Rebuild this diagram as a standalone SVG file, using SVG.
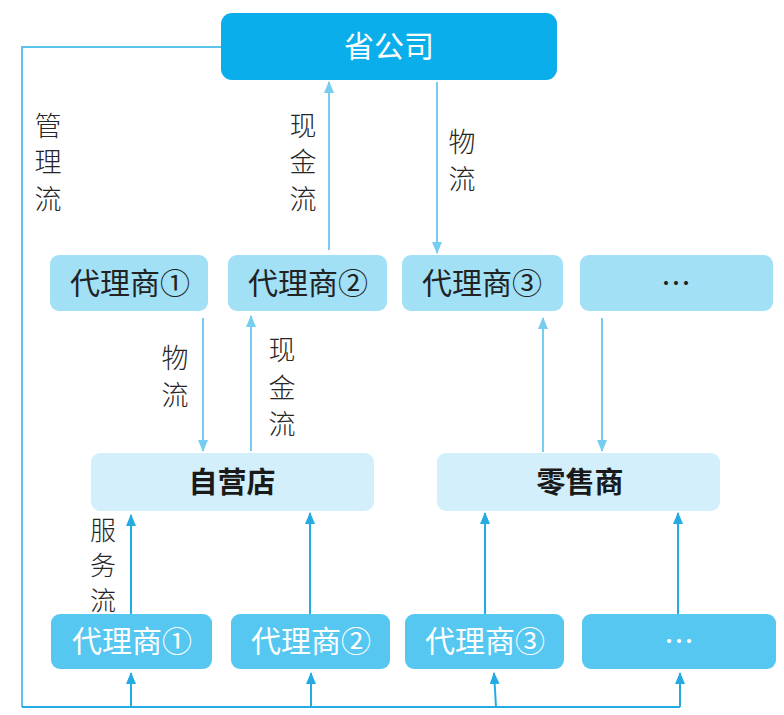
<svg xmlns="http://www.w3.org/2000/svg" width="784" height="715" viewBox="0 0 784 715">
<style>
.t{font-family:"Noto Sans CJK SC","Noto Sans",sans-serif;text-anchor:middle}
.top{fill:#0aaeea}
.r1{fill:#a2e0f6}
.r2{fill:#d3effb}
.r3{fill:#55c7f1}
.lbl{font-size:27px;fill:#262626;font-weight:300}
.w{fill:#fff;font-size:30px}
.d{fill:#222;font-size:30px}
.b{fill:#1a1a1a;font-size:29px;font-weight:700}
.cl{stroke:#76cdf0;stroke-width:2;fill:none}
.cd{stroke:#24abe3;stroke-width:2;fill:none}
.fr{stroke:#5cc3ee;stroke-width:2;fill:none}
</style>
<defs>
<marker id="al" markerUnits="userSpaceOnUse" markerWidth="12" markerHeight="12" viewBox="0 0 12 12" refX="11" refY="6" orient="auto"><path d="M0,1 L12,6 L0,11 Z" fill="#76cdf0"/></marker>
<marker id="ad" markerUnits="userSpaceOnUse" markerWidth="12" markerHeight="12" viewBox="0 0 12 12" refX="11" refY="6" orient="auto"><path d="M0,1 L12,6 L0,11 Z" fill="#24abe3"/></marker>
</defs>
<g id="connectors">
<path class="fr" d="M221,47 H22 V707"/>
<path class="cd" d="M22,707 H680" stroke-width="3"/>
<path class="cd" d="M131,707 V673" marker-end="url(#ad)"/>
<path class="cd" d="M311,707 V673" marker-end="url(#ad)"/>
<path class="cd" d="M496,707 L494,673" marker-end="url(#ad)"/>
<path class="cd" d="M680,707 V673" marker-end="url(#ad)"/>
<path class="cl" d="M437,82 V253" marker-end="url(#al)"/>
<path class="cl" d="M329,250 V82" marker-end="url(#al)"/>
<path class="cl" d="M203,318 V451" marker-end="url(#al)"/>
<path class="cl" d="M251,451 V316" marker-end="url(#al)"/>
<path class="cl" d="M543,452 V318" marker-end="url(#al)"/>
<path class="cl" d="M602,318 V451" marker-end="url(#al)"/>
<path class="cd" d="M131,614 V515" marker-end="url(#ad)"/>
<path class="cd" d="M310,614 V513" marker-end="url(#ad)"/>
<path class="cd" d="M485,614 V513" marker-end="url(#ad)"/>
<path class="cd" d="M678,614 V513" marker-end="url(#ad)"/>
<text class="t lbl" x="48" y="136">管</text>
<text class="t lbl" x="48" y="172">理</text>
<text class="t lbl" x="48" y="209">流</text>
<text class="t lbl" x="303" y="136">现</text>
<text class="t lbl" x="303" y="172">金</text>
<text class="t lbl" x="303" y="209">流</text>
<text class="t lbl" x="462" y="152">物</text>
<text class="t lbl" x="462" y="189">流</text>
<text class="t lbl" x="175" y="368">物</text>
<text class="t lbl" x="175" y="405">流</text>
<text class="t lbl" x="282" y="360">现</text>
<text class="t lbl" x="282" y="398">金</text>
<text class="t lbl" x="282" y="434">流</text>
<text class="t lbl" x="103" y="540" style="font-size:26px">服</text>
<text class="t lbl" x="103" y="575" style="font-size:26px">务</text>
<text class="t lbl" x="103" y="610" style="font-size:26px">流</text>
</g>
<g id="n-province"><rect class="top" x="221" y="13" width="336" height="67" rx="11"/><text class="t w" x="389" y="57">省公司</text></g>
<g id="n-a1"><rect class="r1" x="50" y="255" width="158" height="56" rx="9"/><text class="t d" x="130" y="294">代理商①</text></g>
<g id="n-a2"><rect class="r1" x="228" y="255" width="159" height="56" rx="9"/><text class="t d" x="308" y="294">代理商②</text></g>
<g id="n-a3"><rect class="r1" x="402" y="255" width="161" height="56" rx="9"/><text class="t d" x="482" y="294">代理商③</text></g>
<g id="n-a4"><rect class="r1" x="580" y="255" width="193" height="56" rx="9"/><text class="t d" x="676" y="294">…</text></g>
<g id="n-store"><rect class="r2" x="91" y="453" width="283" height="58" rx="9"/><text class="t b" x="232" y="493">自营店</text></g>
<g id="n-retail"><rect class="r2" x="437" y="453" width="283" height="58" rx="9"/><text class="t b" x="580" y="493">零售商</text></g>
<g id="n-b1"><rect class="r3" x="51" y="614" width="161" height="55" rx="9"/><text class="t w" x="132" y="652">代理商①</text></g>
<g id="n-b2"><rect class="r3" x="231" y="614" width="159" height="55" rx="9"/><text class="t w" x="311" y="652">代理商②</text></g>
<g id="n-b3"><rect class="r3" x="405" y="614" width="159" height="55" rx="9"/><text class="t w" x="485" y="652">代理商③</text></g>
<g id="n-b4"><rect class="r3" x="582" y="614" width="194" height="55" rx="9"/><text class="t w" x="679" y="652">…</text></g>
</svg>
